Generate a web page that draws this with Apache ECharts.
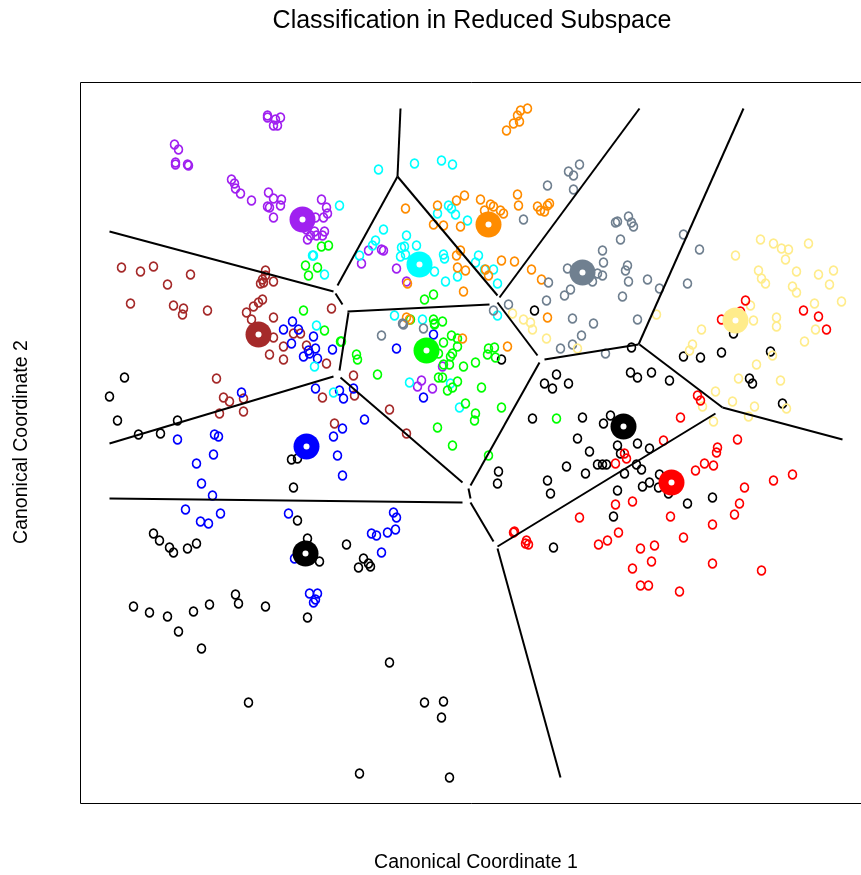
<!DOCTYPE html>
<html>
<head>
<meta charset="utf-8">
<script src="https://cdn.jsdelivr.net/npm/echarts@6/dist/echarts.min.js"></script>
<style>html,body{margin:0;padding:0;background:#fff}#chart{width:861px;height:875px}</style>
</head>
<body>
<div id="chart"></div>
<script>
// Values (units of the picture's own scale, y grows downward)
const purplePts = [[267,115],[267,117],[275,119],[280,117],[273,125],[277,125],
[174,144],[178,149],[175,162],[175,164],[187,164],[188,165],
[231,179],[234,183],[235,188],[240,193],[251,200],[268,192],[273,198],[281,199],[280,205],[267,206],[269,207],[273,217],
[321,199],[326,207],[327,213],[323,217],[315,217],[306,229],[314,231],[324,231],[310,235],[316,235],[322,235],[307,239],
[368,250],[381,249],[383,250],[361,263],[396,268],[406,281],
[442,366],[421,380],[417,386],[432,388]];

const cyanPts = [[339,205],[312,255],[313,255],[324,274],[316,325],
[378,169],[414,163],[441,160],[452,164],
[448,205],[451,208],[437,213],[455,214],[467,220],[383,229],[375,240],[372,245],[406,235],[404,246],[401,247],[416,245],[400,256],[405,254],[443,254],[444,258],[478,255],[475,262],[484,269],[493,269],[434,271],[457,276],[445,281],[497,283],[359,255],[394,315],[422,319],[497,315],
[409,382],[450,383],[459,407],[314,366],[333,392]];

const greenPts = [[321,246],[328,245],[305,265],[317,267],[308,275],[303,310],[324,330],
[424,299],[433,294],[410,319],[433,319],[434,323],[442,321],
[443,342],[451,335],[457,338],[457,346],[452,353],[450,356],[438,353],[488,348],[494,347],[495,357],[487,354],[475,362],[463,366],[449,364],[443,364],[442,377],[438,377],[457,381],[452,387],[447,390],[481,387],[465,403],[501,407],[475,413],[474,420],[437,427],[452,445],[488,455],[556,418],[356,354],[357,359],[377,374],[340,341],[434,324],[341,341]];

const orangePts = [[527,108],[520,110],[517,115],[513,123],[519,121],[506,130],
[405,208],[437,205],[456,200],[464,195],[480,199],[490,204],[493,206],[500,210],[503,213],[484,210],[517,194],[518,205],[537,206],[540,210],[544,211],[547,205],[549,203],[433,224],[443,225],[460,226],[456,255],[460,250],[457,267],[465,270],[485,269],[488,275],[501,260],[514,261],[531,269],[541,279],[407,283],[463,291],[547,317],[406,317],[409,319],[462,338],[507,346]];

const grayPts = [[579,164],[568,171],[573,175],[547,185],[573,189],[523,219],
[602,250],[603,262],[597,273],[602,275],[592,281],[567,268],[548,282],[570,289],[564,295],[546,300],[508,304],[493,310],[572,318],[593,323],[402,323],
[628,216],[615,222],[617,221],[631,222],[633,226],[620,239],[627,265],[625,270],[628,281],[647,279],[622,296],[659,288],[637,319],[683,234],[699,249],[687,283],
[381,335],[403,324],[423,328],[560,348],[572,344],[581,335],[605,353]];

const yellowPts = [[512,313],[523,319],[530,322],[532,329],
[760,239],[773,243],[781,248],[788,249],[785,259],[808,243],[735,255],[758,270],[761,278],[765,283],[796,271],[818,274],[833,270],[829,284],[792,286],[796,292],[814,303],[841,301],[750,305],[753,320],[776,317],[776,326],[815,329],[656,314],[701,329],
[804,341],[692,344],[689,350],[772,355],[756,364],[738,378],[780,380],[715,391],[732,401],[754,406],[786,408],[702,406],[748,416],[713,421],
[546,338],[577,348]];

const redPts = [[745,300],[740,311],[721,319],[803,310],[818,316],[826,329],
[697,395],[700,400],[680,417],[663,440],[737,439],[717,447],[716,452],[704,463],[713,465],[695,470],[624,453],[626,458],[615,463],[773,480],[792,474],[744,487],[739,503],[734,514],[712,524],[632,501],[615,504],[670,516],[618,532],[607,540],[683,537],[640,548],[654,545],[651,561],[712,563],[632,568],[761,570],
[640,585],[648,585],[679,591],
[513,532],[514,531],[526,540],[528,544],[525,543],[579,517],[598,544]];

const blackPts = [[534,310],
[631,347],[683,356],[700,357],[721,352],[770,351],[733,333],[630,372],[637,377],[651,372],[669,380],[749,378],[752,383],[782,403],[610,415],[603,423],[617,445],[637,443],[649,448],[620,453],[606,464],[602,464],[636,464],[641,469],[624,473],[659,474],[649,482],[642,486],[658,487],[617,490],[668,493],[687,503],[712,497],[613,516],
[501,359],[556,374],[544,383],[552,388],[568,383],[532,418],[582,417],[577,438],[589,451],[566,466],[597,464],[585,473],[547,480],[550,493],[498,471],[497,483],[553,547],[363,558],[368,563],[370,566],[358,567],
[124,377],[109,396],[117,420],[138,434],[160,433],[177,420],[291,459],[297,458],[293,487],[297,520],[153,533],[159,540],[169,547],[173,552],[187,548],[196,543],[307,538],[319,561],[346,544],
[133,606],[149,612],[167,616],[178,631],[193,611],[209,604],[235,594],[238,603],[265,606],[201,648],[307,617],[248,702],
[389,662],[424,702],[443,701],[441,717],[359,773],[449,777]];

const bluePts = [[292,321],[283,329],[298,329],
[313,336],[291,343],[308,350],[315,348],[303,356],[309,353],[317,358],[332,349],[315,388],[339,390],[343,398],[241,392],[177,439],[214,434],[218,436],[213,454],[196,463],[201,483],[212,495],[185,509],[200,521],[208,523],[220,513],[288,513],[333,436],[342,428],[337,455],[342,475],[294,558],
[433,334],[396,348],[423,397],[353,388],[364,419],
[393,512],[396,517],[395,529],[387,532],[371,533],[376,535],[381,552],
[309,593],[317,593],[313,602],[315,599]];

const brownPts = [[121,267],[140,271],[153,266],[190,274],[167,284],[130,303],[173,305],[183,308],[182,314],[207,310],[265,270],[265,275],[262,279],[263,282],[273,281],[260,283],[262,299],[258,302],[253,306],[246,312],[251,319],[273,317],[331,308],
[273,337],[283,346],[269,354],[283,359],[293,333],[300,333],[306,345],[326,363],[216,378],[223,397],[229,401],[243,398],[219,413],[243,411],[322,397],[334,423],
[353,375],[354,395],[389,409],[406,433]];

// class centroids (same order as centroidColors)
const centroidPts = [[302,219],[488,224],[582,272],[419,264],[258,334],[426,350],[735,320],[306,446],[623,426],[671,482],[305,553]];

// decision boundary segments
const boundarySegments = [
 [[400,108],[397,176]],
 [[397,176],[337,285]],
 [[109,231],[333,291]],
 [[335,293],[342,304]],
 [[397,176],[497,295]],
 [[499,297],[639,108]],
 [[347,311],[489,304]],
 [[497,302],[537,355]],
 [[544,359],[638,344]],
 [[638,344],[743,108]],
 [[639,344],[722,407]],
 [[722,407],[842,439]],
 [[715,413],[497,546]],
 [[497,548],[560,777]],
 [[470,502],[493,541]],
 [[468,488],[470,498]],
 [[470,485],[539,362]],
 [[462,482],[340,377]],
 [[109,498],[462,502]],
 [[109,443],[333,376]],
 [[348,312],[339,370]]
];

const C = {purple:'#A020F0', cyan:'#00FFFF', green:'#00FF00', orange:'#FF8C00', gray:'#708090',
  yellow:'#FFEC8B', red:'#FF0000', black:'#000000', blue:'#0000FF', brown:'#A52A2A'};
const centroidColors = [C.purple, C.orange, C.gray, C.cyan, C.brown, C.green, C.yellow, C.blue, C.black, C.red, C.black];

function ptSeries(data, color) {
  return {type:'scatter', data:data, symbol:'circle', symbolSize:[7.9,8.8], z:2, silent:true,
    itemStyle:{color:'rgba(255,255,255,0)', borderColor:color, borderWidth:1.7, opacity:1}};
}

const chart = echarts.init(document.getElementById('chart'), null, {renderer:'canvas'});
const font = '"Liberation Sans", Arial, Helvetica, sans-serif';
chart.setOption({
  animation:false,
  backgroundColor:'#fff',
  grid:{left:80.5, top:82.5, width:790, height:721, show:true, borderColor:'#000', borderWidth:1,
    backgroundColor:'rgba(0,0,0,0)', outerBoundsMode:'none', containLabel:false},
  xAxis:{type:'value', min:80, max:870, show:false, splitLine:{show:false}},
  yAxis:{type:'value', min:82, max:803, inverse:true, show:false, splitLine:{show:false}},
  graphic:[
    {type:'text', x:472, y:21, style:{text:'Classification in Reduced Subspace', font:'25px '+font, fill:'#000', align:'center', verticalAlign:'middle'}},
    {type:'text', x:476, y:863, style:{text:'Canonical Coordinate 1', font:'19.5px '+font, fill:'#000', align:'center', verticalAlign:'middle'}},
    {type:'text', x:22, y:442, rotation:Math.PI/2, style:{text:'Canonical Coordinate 2', font:'19.5px '+font, fill:'#000', align:'center', verticalAlign:'middle'}}
  ],
  series:[
    ptSeries(blackPts, C.black),
    ptSeries(brownPts, C.brown),
    ptSeries(bluePts, C.blue),
    ptSeries(purplePts, C.purple),
    ptSeries(cyanPts, C.cyan),
    ptSeries(greenPts, C.green),
    ptSeries(orangePts, C.orange),
    ptSeries(grayPts, C.gray),
    ptSeries(yellowPts, C.yellow),
    ptSeries(redPts, C.red),
    {type:'scatter', z:3, silent:true, symbol:'circle', symbolSize:26,
      data:centroidPts.map((p,i)=>({value:p, itemStyle:{color:centroidColors[i], opacity:1}}))},
    {type:'scatter', z:4, silent:true, symbol:'circle', symbolSize:6, itemStyle:{color:'#fff', opacity:1},
      data:centroidPts},
    {type:'lines', coordinateSystem:'cartesian2d', z:5, silent:true,
      lineStyle:{color:'#000', width:2, opacity:1},
      data:boundarySegments.map(s=>({coords:s}))}
  ]
});
</script>
</body>
</html>
